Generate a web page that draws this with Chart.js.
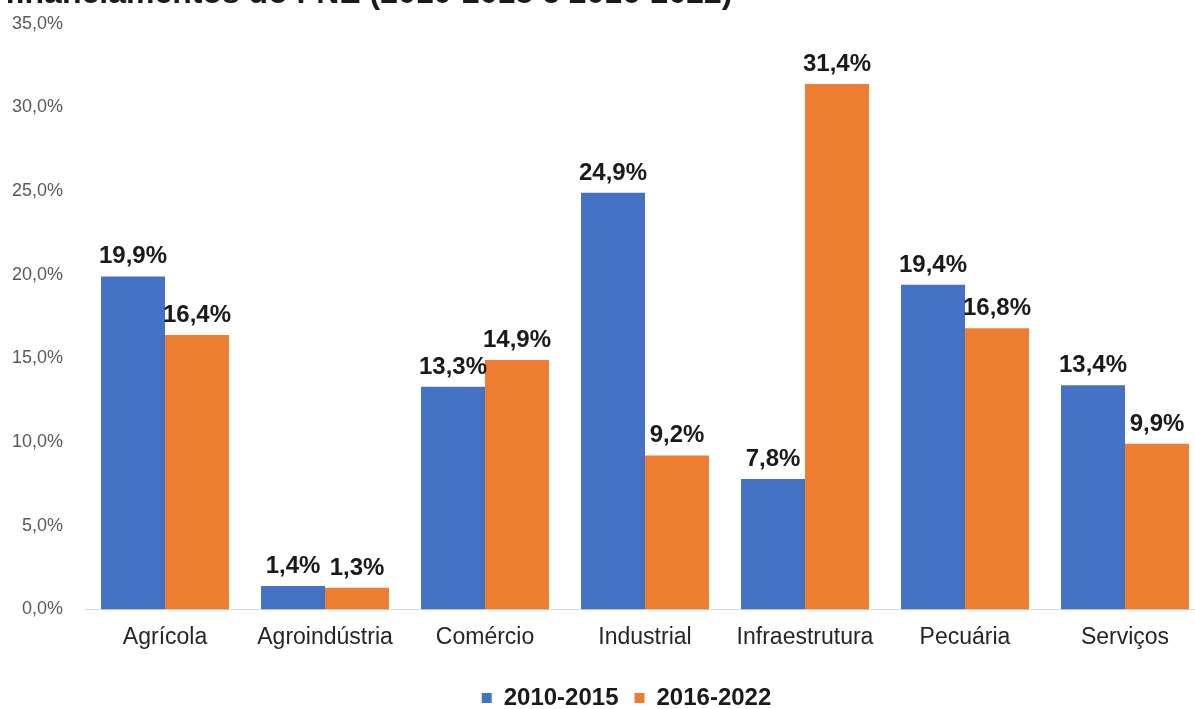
<!DOCTYPE html>
<html lang="pt">
<head>
<meta charset="utf-8">
<title>Financiamentos do FNE</title>
<script src="https://cdn.jsdelivr.net/npm/chart.js@4/dist/chart.umd.min.js"></script>
<style>
    html, body {
        margin: 0;
        padding: 0;
        background: #fff;
        overflow: hidden;
    }
    #wrap {
        position: relative;
        top: -9px;
        width: 1252px;
        height: 733px;
    }
    #title {
        position: absolute;
        left: 5px;
        top: -15px;
        font: bold 32px "Liberation Sans", Arial, sans-serif;
        line-height: 32px;
        color: #1a1a1a;
        white-space: nowrap;
        z-index: 2;
    }
</style>
</head>
<body>
<div id="wrap">
    <div id="title">financiamentos do FNE (2010-2015 e 2016-2022)</div>
    <canvas id="chart"></canvas>
</div>
<script>
// Data
const categories = ['Agrícola', 'Agroindústria', 'Comércio', 'Industrial', 'Infraestrutura', 'Pecuária', 'Serviços'];
const seriesNames = ['2010-2015', '2016-2022'];
const values2010 = [19.9, 1.4, 13.3, 24.9, 7.8, 19.4, 13.4];
const values2016 = [16.4, 1.3, 14.9, 9.2, 31.4, 16.8, 9.9];
const yTicks = [0, 5, 10, 15, 20, 25, 30, 35];

const colors = {
    blue: '#4472C4',
    orange: '#ED7D31',
    axis: '#D9D9D9',
    tick: '#595959',
    label: '#262626',
    value: '#1a1a1a'
};

const fontFamily = "'Liberation Sans', Arial, sans-serif";

// Format like 19,9%
function pct(v) {
    return v.toFixed(1).replace('.', ',') + '%';
}

// Value labels above every bar
const valueLabels = {
    id: 'valueLabels',
    afterDatasetsDraw(chart) {
        const ctx = chart.ctx;
        ctx.save();
        ctx.font = 'bold 24px ' + fontFamily;
        ctx.fillStyle = colors.value;
        ctx.textAlign = 'center';
        ctx.textBaseline = 'alphabetic';
        chart.data.datasets.forEach((ds, i) => {
            const meta = chart.getDatasetMeta(i);
            meta.data.forEach((bar, j) => {
                ctx.fillText(pct(ds.data[j]), bar.x, bar.y - 13);
            });
        });
        ctx.restore();
    }
};

// Nudge the legend a bit right and down, like in the original figure
const legendShift = {
    id: 'legendShift',
    afterLayout(chart) {
        const lg = chart.legend;
        if (!lg) return;
        lg.left += 29;
        lg.right += 29;
        lg.top += 5;
        lg.bottom += 5;
    }
};

const chart = new Chart(document.getElementById('chart'), {
    type: 'bar',
    data: {
        labels: categories,
        datasets: [
            {
                label: seriesNames[0],
                data: values2010,
                backgroundColor: colors.blue,
                categoryPercentage: 0.8,
                barPercentage: 1.0
            },
            {
                label: seriesNames[1],
                data: values2016,
                backgroundColor: colors.orange,
                categoryPercentage: 0.8,
                barPercentage: 1.0
            }
        ]
    },
    options: {
        responsive: true,
        maintainAspectRatio: false,
        animation: false,
        layout: {
            padding: { top: 6, left: -10, right: 47, bottom: 9 }
        },
        plugins: {
            legend: {
                position: 'bottom',
                labels: {
                    boxWidth: 10,
                    boxHeight: 10,
                    padding: 16,
                    color: colors.value,
                    font: { family: fontFamily, size: 24, weight: 'bold' }
                }
            },
            tooltip: { enabled: false }
        },
        scales: {
            x: {
                grid: { display: false, drawTicks: false },
                border: { display: true, color: colors.axis, width: 1 },
                ticks: {
                    padding: 14,
                    color: colors.label,
                    font: { family: fontFamily, size: 23 }
                }
            },
            y: {
                min: 0,
                max: 35,
                afterBuildTicks(axis) {
                    axis.ticks = yTicks.map(v => ({ value: v }));
                },
                grid: { display: false, drawTicks: false },
                border: { display: false },
                ticks: {
                    padding: 22,
                    color: colors.tick,
                    font: { family: fontFamily, size: 18 },
                    callback: v => pct(v)
                }
            }
        }
    },
    plugins: [valueLabels, legendShift]
});
</script>
</body>
</html>
